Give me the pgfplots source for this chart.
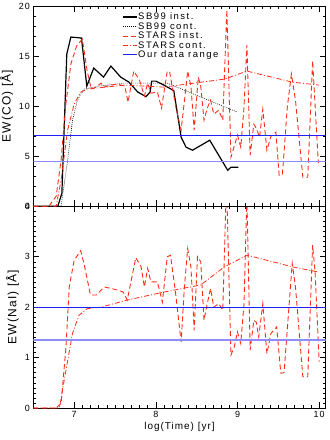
\documentclass[border=0pt]{standalone}
\usepackage{fontspec}
\setmainfont[LetterSpace=10]{Liberation Sans}
\newfontfamily\legfont[LetterSpace=16]{Liberation Sans}
\usepackage{pgfplots}
\pgfplotsset{compat=1.18}
\definecolor{starsred}{RGB}{250,45,25}
\definecolor{dblue}{RGB}{30,30,250}
\definecolor{lblue}{RGB}{140,140,250}

\pgfplotstableread{
t    ew
6.50 0
6.80 0
6.85 1.3
6.91 15.2
6.96 16.9
7.09 16.8
7.155 12.0
7.24 13.8
7.36 12.9
7.45 14.0
7.57 12.9
7.67 12.4
7.78 11.4
7.88 10.95
7.93 11.4
7.95 12.5
8.00 12.5
8.10 12.1
8.22 11.55
8.31 6.9
8.37 5.9
8.45 5.6
8.66 6.6
8.88 3.6
8.92 3.9
9.01 3.9
}\sbinstco

\pgfplotstableread{
t    ew
6.50 0
6.84 0
6.92 4.6
6.98 8.6
7.04 10.6
7.12 11.7
7.30 12.0
7.61 12.3
8.00 12.3
8.14 12.3
9.00 9.4
}\sbcontco

\pgfplotstableread{
t    ew
6.50 0
6.69 0
6.78 1.0
6.84 4.6
6.90 10.3
6.96 14.2
7.03 16.0
7.10 16.7
7.16 13.5
7.21 11.7
7.27 11.9
7.33 12.3
7.37 11.9
7.45 12.1
7.53 12.2
7.62 12.0
7.66 10.4
7.73 13.5
7.80 12.6
7.86 11.0
7.90 12.3
7.94 11.3
8.02 11.4
8.07 9.8
8.14 13.5
8.17 13.4
8.245 9.9
8.31 7.6
8.35 10.5
8.39 13.5
8.43 12.0
8.47 7.6
8.52 12.9
8.55 12.0
8.59 8.6
8.63 9.8
8.67 10.6
8.71 9.2
8.77 9.6
8.82 8.6
8.87 19.6
8.92 4.9
8.96 6.0
9.00 7.1
9.04 5.9
9.08 9.9
9.115 16.1
9.155 5.1
9.20 8.2
9.23 7.8
9.27 6.9
9.31 9.7
9.36 5.6
9.41 7.0
9.47 7.4
9.51 3.1
9.55 3.2
9.61 9.9
9.66 13.2
9.71 10.6
9.80 2.9
9.86 2.9
9.92 14.5
9.99 4.3
}\stinstco

\pgfplotstableread{
t    ew
6.50 0
6.78 0
6.84 2.6
6.92 7.6
7.00 10.2
7.08 11.4
7.16 11.7
7.61 12.1
8.10 11.9
8.84 12.7
9.115 13.5
9.67 12.4
10.00 12.1
}\stcontco

\pgfplotstableread{
t    ew
6.50 0
6.78 0
6.84 0.09
6.90 1.2
6.94 2.4
7.00 2.93
7.08 3.12
7.12 2.87
7.20 2.24
7.27 2.24
7.37 2.40
7.45 2.37
7.53 2.34
7.60 2.30
7.65 2.14
7.755 2.98
7.82 2.80
7.86 2.40
7.90 2.77
7.94 2.50
8.02 2.50
8.08 2.10
8.14 3.00
8.18 3.03
8.245 2.24
8.31 1.31
8.35 2.40
8.39 3.16
8.43 2.80
8.47 1.54
8.51 3.00
8.55 2.90
8.59 1.74
8.63 2.07
8.67 2.37
8.71 2.00
8.77 2.07
8.82 1.94
8.86 4.2
8.87 4.2
8.92 1.05
8.96 1.21
9.00 1.51
9.04 1.28
9.08 2.07
9.115 4.2
9.155 1.15
9.20 1.74
9.23 1.70
9.26 1.41
9.31 2.07
9.36 1.08
9.41 1.48
9.48 1.61
9.53 0.69
9.57 0.70
9.63 2.00
9.67 2.87
9.71 2.40
9.80 0.62
9.86 0.62
9.92 3.23
9.95 2.70
10.00 0.92
}\stinstna

\pgfplotstableread{
t    ew
6.50 0
6.82 0
6.90 0.75
6.98 1.48
7.06 1.84
7.16 1.97
7.33 2.00
7.65 2.14
8.10 2.30
8.55 2.44
8.84 2.80
9.12 3.03
9.67 2.80
9.98 2.70
}\stcontna

\begin{document}
\begin{tikzpicture}
\useasboundingbox (-33.3bp,-32bp) rectangle (296.7bp,408bp);
\pgfplotsset{
  panel/.style={
    scale only axis, width=292.4bp,
    xmin=6.5, xmax=10.08,
    xtick={7,8,9,10}, minor x tick num=9,
    tick align=inside, major tick length=6bp, minor tick length=3bp,
    every tick/.style={black, line width=0.5pt},
    axis line style={line width=0.6pt},
    tick label style={font=\fontsize{9}{10}\selectfont},
    xlabel style={font=\fontsize{10}{11}\selectfont},
    ylabel style={font=\fontsize{12}{13}\selectfont},
    /pgf/number format/assume math mode=true,
  },
  sbinst/.style={black, line width=1.2pt},
  sbcont/.style={black, line width=0.6pt, dash pattern=on 0.8bp off 1.2bp},
  stinst/.style={starsred, line width=0.9pt, dash pattern=on 5bp off 3bp},
  stcont/.style={starsred, line width=0.8pt, dash pattern=on 5bp off 2bp on 1bp off 2bp},
  rangeA/.style={color=dblue, line width=1pt},
  rangeB/.style={color=lblue, line width=1.5pt},
}
% lower panel: NaI
\begin{axis}[panel, at={(0,0)}, anchor=south west, height=201.7bp,
  ymin=0, ymax=4, ytick={0,1,2,3,4}, minor y tick num=9,
  xlabel={log(Time) [yr]}, ylabel={EW(NaI) [Å]},
  xlabel style={yshift=2bp}, ylabel style={yshift=-1bp},
]
  \addplot[stinst] table[x=t, y=ew] {\stinstna};
  \addplot[stcont] table[x=t, y=ew] {\stcontna};
  \addplot[rangeA] coordinates {(6.5,2.0) (10.08,2.0)};
  \addplot[rangeB] coordinates {(6.5,1.35) (10.08,1.35)};
\end{axis}
% upper panel: CO
\begin{axis}[panel, at={(0,201.7bp)}, anchor=south west, height=200.3bp,
  ymin=0, ymax=20, ytick={0,5,10,15,20}, minor y tick num=4,
  xticklabels=\empty, ylabel={EW(CO) [Å]}, ylabel style={yshift=-1bp},
  legend style={at={(0.305,0.97)}, anchor=north west, draw=none, fill=none,
    font=\legfont\fontsize{9.5}{10}\selectfont, row sep=0pt, inner sep=0pt,
    nodes={inner sep=0.3bp, text height=7bp, text depth=1.9bp}},
  legend cell align=left,
  legend image code/.code={\draw[#1] (0bp,0bp) -- (14bp,0bp);},
]
  \addplot[sbinst] table[x=t, y=ew] {\sbinstco};
  \addplot[sbcont] table[x=t, y=ew] {\sbcontco};
  \addplot[stinst] table[x=t, y=ew] {\stinstco};
  \addplot[stcont] table[x=t, y=ew] {\stcontco};
  \addplot[rangeA] coordinates {(6.5,7.1) (10.08,7.1)};
  \addplot[rangeB, forget plot] coordinates {(6.5,4.45) (10.08,4.45)};
  \legend{SB99 inst., SB99 cont., STARS inst., STARS cont., Our data range}
\end{axis}
\end{tikzpicture}
\end{document}
